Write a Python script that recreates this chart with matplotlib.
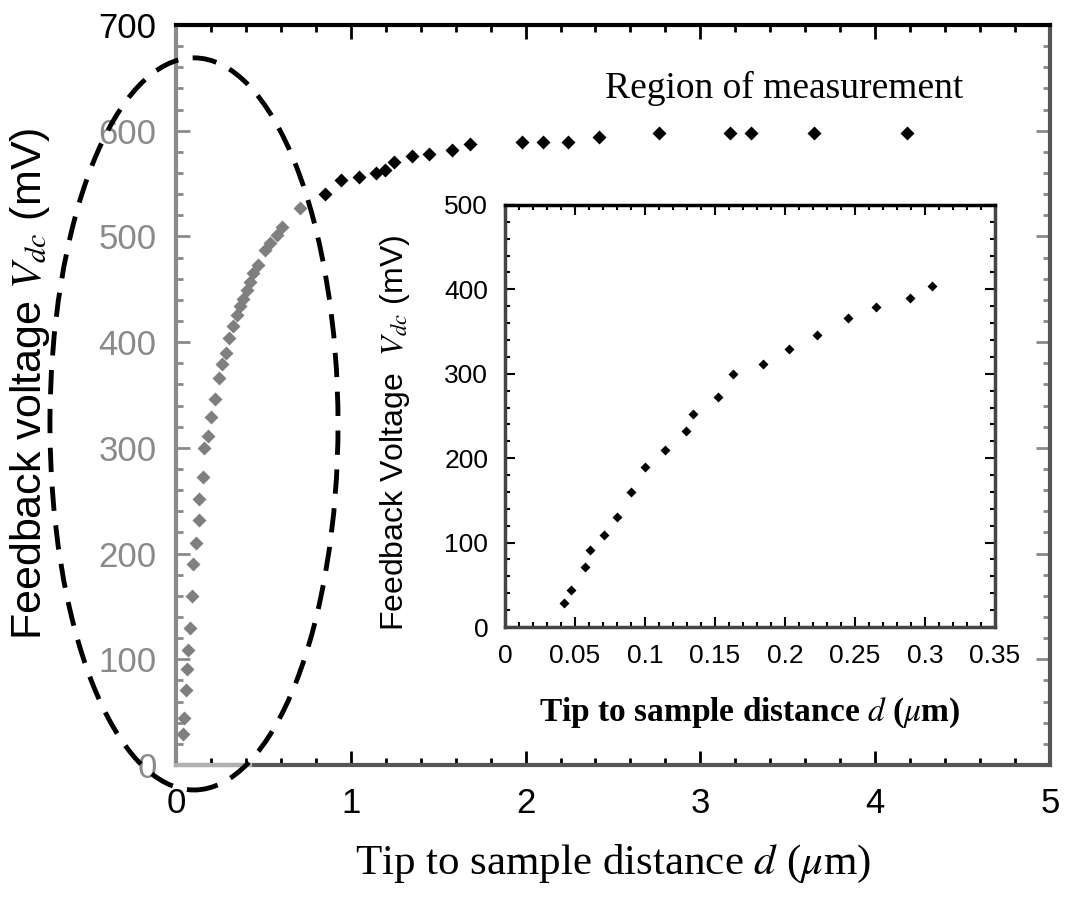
import matplotlib
matplotlib.use('Agg')
import matplotlib.pyplot as plt
from matplotlib.patches import Ellipse
from matplotlib.ticker import MultipleLocator

# Inset data (also the grey near-surface points of the main plot)
inset_d = [0.042, 0.047, 0.057, 0.061, 0.071, 0.080, 0.090, 0.100, 0.114, 0.129,
           0.134, 0.152, 0.163, 0.184, 0.203, 0.223, 0.245, 0.265, 0.289, 0.305]
inset_v = [29, 44, 71, 91, 109, 130, 160, 190, 210, 232,
           252, 272, 300, 311, 329, 346, 366, 379, 390, 404]

# Further grey points in main plot (inside ellipse)
grey_ext_d = [0.328, 0.347, 0.366, 0.385, 0.404, 0.423, 0.442, 0.471, 0.509,
              0.538, 0.576, 0.605, 0.709]
grey_ext_v = [415, 426, 434, 441, 449, 457, 465, 473, 487,
              494, 501, 509, 527]

# Black points (region of measurement)
far_d = [0.85, 0.945, 1.047, 1.144, 1.196, 1.246, 1.348, 1.45, 1.578, 1.68,
         1.98, 2.10, 2.245, 2.42, 2.765, 3.17, 3.29, 3.65, 4.18]
far_v = [540, 553, 556, 560, 563, 570, 576, 578, 582, 587,
         589, 589, 589, 594, 598, 598, 598, 598, 598]

x_ticks_main = [0, 1, 2, 3, 4, 5]
y_ticks_main = [0, 100, 200, 300, 400, 500, 600, 700]
x_ticks_inset = [0, 0.05, 0.1, 0.15, 0.2, 0.25, 0.3, 0.35]
x_ticklabels_inset = ['0', '0.05', '0.1', '0.15', '0.2', '0.25', '0.3', '0.35']
y_ticks_inset = [0, 100, 200, 300, 400, 500]

plt.rcParams['mathtext.fontset'] = 'stix'
SANS = ['Liberation Sans', 'DejaVu Sans']
SERIF = ['Liberation Serif', 'DejaVu Serif']
GREY = '#8a8a8a'

fig = plt.figure(figsize=(10.73, 8.97), dpi=100)
ax = fig.add_axes([0.164, 0.1472, 0.8145, 0.825])

grey_d = inset_d + grey_ext_d
grey_v = inset_v + grey_ext_v
ax.plot(grey_d, grey_v, 'D', color='#7f7f7f', ms=7.5, mec='none', clip_on=False)
ax.plot(far_d, far_v, 'D', color='black', ms=7.5, mec='none', clip_on=False)

ax.set_xlim(0, 5)
ax.set_ylim(0, 700)
ax.set_xticks(x_ticks_main)
ax.set_yticks(y_ticks_main)
ax.xaxis.set_minor_locator(MultipleLocator(0.2))
ax.yaxis.set_minor_locator(MultipleLocator(20))
ax.tick_params(which='both', direction='in', top=True, right=True, width=2)
ax.tick_params(which='major', length=10)
ax.tick_params(which='minor', length=5)
ax.tick_params(axis='y', which='both', colors=GREY, labelcolor=GREY)
ax.tick_params(axis='x', pad=16)
ax.tick_params(axis='y', pad=14)
for lab in ax.get_xticklabels() + ax.get_yticklabels():
    lab.set_fontfamily(SANS)
    lab.set_fontsize(25)
ax.get_yticklabels()[-1].set_color('black')

ax.spines['left'].set_color(GREY)
ax.spines['bottom'].set_color('#555555')
ax.spines['right'].set_color('#555555')
ax.spines['top'].set_color('black')
for s in ax.spines.values():
    s.set_linewidth(3)
ax.axhline(0, xmax=0.085, color='#b0b0b0', lw=3, clip_on=False, zorder=3)

ax.set_xlabel(r'Tip to sample distance $d$ ($\mu$m)', fontfamily=SERIF, fontsize=31)
ax.xaxis.set_label_coords(0.5, -0.105)
ax.set_ylabel(r'Feedback voltage $V_{dc}$ (mV)', fontfamily=SANS, fontsize=31)
ax.yaxis.set_label_coords(-0.142, 0.515)

ax.text(3.48, 640, 'Region of measurement', fontfamily=SERIF, fontsize=27,
        ha='center', va='center')

ell = Ellipse((0.103, 322.6), 1.648, 692.5, fill=False, ec='black', lw=3.5,
              ls=(0, (5, 3)), clip_on=False, zorder=6)
ax.add_patch(ell)

# Inset
ins = fig.add_axes([0.4706, 0.301, 0.4567, 0.4705])
ins.plot(inset_d, inset_v, 'D', color='black', ms=5, mec='none')
ins.set_xlim(0, 0.35)
ins.set_ylim(0, 500)
ins.set_xticks(x_ticks_inset)
ins.set_xticklabels(x_ticklabels_inset)
ins.set_yticks(y_ticks_inset)
ins.xaxis.set_minor_locator(MultipleLocator(0.01))
ins.yaxis.set_minor_locator(MultipleLocator(20))
ins.tick_params(which='both', direction='in', top=True, right=True, width=1.5)
ins.tick_params(which='major', length=7)
ins.tick_params(which='minor', length=3.5)
ins.tick_params(axis='x', pad=12)
ins.tick_params(axis='y', pad=12)
for lab in ins.get_xticklabels() + ins.get_yticklabels():
    lab.set_fontfamily(SANS)
    lab.set_fontsize(19)
for s in ins.spines.values():
    s.set_linewidth(2.5)
    s.set_color('#444444')
ins.spines['top'].set_color('black')
ins.set_xlabel(r'Tip to sample distance $d$ ($\mu$m)', fontfamily=SERIF,
               fontsize=24, fontweight='bold')
ins.xaxis.set_label_coords(0.5, -0.163)
ins.set_ylabel(r'Feedback Voltage  $V_{dc}$ (mV)', fontfamily=SANS, fontsize=23)
ins.yaxis.set_label_coords(-0.19, 0.46)

fig.savefig('out.png', dpi=100)
